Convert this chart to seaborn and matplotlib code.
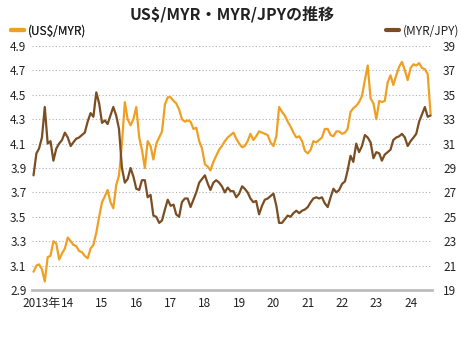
import numpy as np
import pandas as pd
import matplotlib
matplotlib.use("Agg")
import matplotlib.pyplot as plt
from matplotlib.lines import Line2D
import matplotlib.transforms as mtransforms
import seaborn as sns

# ---- data (monthly, Jan 2013 - Aug 2024) ----
start_month = "2013-01-01"
usd_myr = [
    3.05, 3.10, 3.11, 3.07, 2.97, 3.17, 3.18, 3.30, 3.28, 3.15, 3.20, 3.24,   # 2013
    3.33, 3.30, 3.27, 3.26, 3.22, 3.21, 3.18, 3.16, 3.24, 3.27, 3.37, 3.50,   # 2014
    3.62, 3.67, 3.72, 3.62, 3.57, 3.76, 3.84, 4.10, 4.44, 4.30, 4.25, 4.30,   # 2015
    4.40, 4.15, 4.05, 3.90, 4.12, 4.08, 3.97, 4.10, 4.15, 4.20, 4.42, 4.48,   # 2016
    4.48, 4.45, 4.43, 4.38, 4.30, 4.28, 4.29, 4.28, 4.22, 4.23, 4.12, 4.06,   # 2017
    3.93, 3.91, 3.88, 3.95, 4.00, 4.05, 4.08, 4.12, 4.15, 4.17, 4.19, 4.14,   # 2018
    4.10, 4.07, 4.08, 4.12, 4.18, 4.13, 4.16, 4.20, 4.19, 4.18, 4.17, 4.11,   # 2019
    4.08, 4.16, 4.40, 4.36, 4.33, 4.28, 4.24, 4.19, 4.15, 4.16, 4.12, 4.04,   # 2020
    4.02, 4.05, 4.12, 4.11, 4.13, 4.15, 4.22, 4.22, 4.17, 4.16, 4.20, 4.20,   # 2021
    4.18, 4.19, 4.22, 4.36, 4.39, 4.41, 4.44, 4.49, 4.62, 4.74, 4.47, 4.43,   # 2022
    4.30, 4.45, 4.44, 4.45, 4.60, 4.66, 4.58, 4.66, 4.73, 4.77, 4.70, 4.62,   # 2023
    4.72, 4.75, 4.74, 4.76, 4.72, 4.71, 4.67, 4.34,                           # 2024
]
myr_jpy = [
    28.4, 30.2, 30.6, 31.5, 34.0, 31.0, 31.2, 29.6, 30.6, 31.0, 31.3, 31.9,   # 2013
    31.5, 30.8, 31.1, 31.4, 31.5, 31.7, 31.9, 32.8, 33.5, 33.2, 35.2, 34.3,   # 2014
    32.7, 32.9, 32.6, 33.3, 34.0, 33.3, 32.2, 29.0, 27.8, 28.1, 29.0, 28.3,   # 2015
    27.3, 27.2, 28.0, 28.0, 26.6, 26.8, 25.1, 25.0, 24.5, 24.7, 25.6, 26.4,   # 2016
    25.9, 26.0, 25.2, 25.0, 26.2, 26.5, 26.5, 25.8, 26.4, 27.0, 27.8, 28.1,   # 2017
    28.4, 27.7, 27.2, 27.8, 28.0, 27.8, 27.5, 27.0, 27.4, 27.1, 27.1, 26.6,   # 2018
    26.9, 27.5, 27.3, 27.0, 26.5, 26.2, 26.3, 25.2, 25.9, 26.4, 26.5, 26.7,   # 2019
    26.9, 25.9, 24.5, 24.5, 24.8, 25.1, 25.0, 25.3, 25.5, 25.3, 25.5, 25.6,   # 2020
    25.8, 26.2, 26.5, 26.6, 26.5, 26.6, 26.1, 25.8, 26.6, 27.3, 27.0, 27.2,   # 2021
    27.7, 27.9, 28.8, 30.0, 29.5, 31.0, 30.3, 30.8, 31.7, 31.5, 31.1, 29.8,   # 2022
    30.3, 30.2, 29.6, 30.1, 30.3, 30.5, 31.3, 31.5, 31.6, 31.8, 31.5, 30.8,   # 2023
    31.2, 31.5, 31.8, 32.8, 33.4, 34.0, 33.2, 33.3,                           # 2024
]
year_ticks = list(range(2014, 2025))
year_labels = [str(y)[2:] for y in year_ticks]
left_ticks = [2.9, 3.1, 3.3, 3.5, 3.7, 3.9, 4.1, 4.3, 4.5, 4.7, 4.9]
right_ticks = list(range(19, 40, 2))
title = "US$/MYR・MYR/JPYの推移"
label_left = "(US$/MYR)"
label_right = "(MYR/JPY)"
first_year_label = "2013年"

dates = pd.date_range(start_month, periods=len(usd_myr), freq="MS")
df = pd.DataFrame({"date": dates, "usd_myr": usd_myr, "myr_jpy": myr_jpy})

ORANGE = "#EFA023"
BROWN = "#7A4E22"
TEXT = "#222222"

sns.set_theme(style="white")
plt.rcParams["font.family"] = ["Noto Sans CJK JP", "DejaVu Sans"]

fig = plt.figure(figsize=(4.65, 3.4), dpi=100)
ax = fig.add_axes([32 / 465, 1 - 290 / 340, 400 / 465, 244 / 340])
ax2 = ax.twinx()

sns.lineplot(data=df, x="date", y="usd_myr", ax=ax, color=ORANGE, lw=1.6)
sns.lineplot(data=df, x="date", y="myr_jpy", ax=ax2, color=BROWN, lw=1.6)

ax.set_xlim(pd.Timestamp("2012-12-16"), pd.Timestamp("2024-08-16"))
ax.set_ylim(2.9, 4.9)
ax2.set_ylim(19, 39)
ax.set_yticks(left_ticks)
ax.set_yticklabels([f"{v:.1f}" for v in left_ticks])
ax2.set_yticks(right_ticks)
ax2.set_yticklabels([str(v) for v in right_ticks])
ax.set_xticks([pd.Timestamp(f"{y}-01-01") for y in year_ticks])
ax.set_xticklabels(year_labels)
ax.set_xlabel("")
ax.set_ylabel("")
ax2.set_ylabel("")

ax.grid(axis="y", color="#b0b0b0", linestyle=(0, (1, 2)), linewidth=0.8)
ax.grid(axis="x", visible=False)
ax2.grid(False)
ax.set_axisbelow(True)

for a in (ax, ax2):
    for s in ("top", "left", "right", "bottom"):
        a.spines[s].set_visible(False)
ax.spines["bottom"].set_visible(True)
ax.spines["bottom"].set_color("#bdbdbd")
ax.spines["bottom"].set_linewidth(2)

ax.tick_params(axis="x", length=2, width=0.8, color="#bdbdbd", direction="in",
               labelsize=8.5, labelcolor=TEXT, pad=5)
ax.tick_params(axis="y", length=0, labelsize=8.5, labelcolor=TEXT, pad=4)
ax2.tick_params(axis="y", length=0, labelsize=8.5, labelcolor=TEXT, pad=8)

# "2013年" placed just left of the first year label ("14")
fig.canvas.draw()
first_lbl = ax.get_xticklabels()[0]
bb = first_lbl.get_window_extent()
fig.text(bb.x0 / fig.bbox.width - 1 / 465, (bb.y0 + bb.y1) / 2 / fig.bbox.height,
         first_year_label, ha="right", va="center", fontsize=8.5, color=TEXT)

fig.text(0.5, 1 - 14 / 340, title, ha="center", va="center",
         fontsize=11.5, fontweight="bold", color=TEXT)

leg1 = ax.legend(handles=[Line2D([], [], color=ORANGE, lw=3, solid_capstyle="round")],
                 labels=[label_left], loc="center left",
                 bbox_to_anchor=(11 / 465, 1 - 31 / 340), bbox_transform=fig.transFigure,
                 frameon=False, handlelength=1.1, handletextpad=0.3, borderpad=0,
                 borderaxespad=0, fontsize=8.5, labelcolor=TEXT)
ax.add_artist(leg1)
ax2.legend(handles=[Line2D([], [], color=BROWN, lw=3, solid_capstyle="round")],
           labels=[label_right], loc="center right",
           bbox_to_anchor=(459 / 465, 1 - 31 / 340), bbox_transform=fig.transFigure,
           frameon=False, handlelength=1.1, handletextpad=0.3, borderpad=0,
           borderaxespad=0, fontsize=8.5, labelcolor=TEXT)

fig.savefig("out.png", dpi=100)
